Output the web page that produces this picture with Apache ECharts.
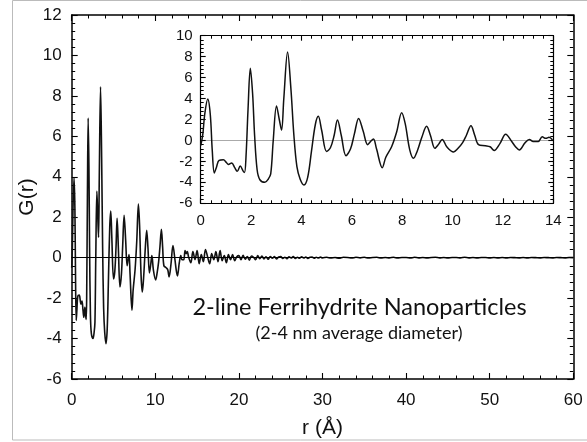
<!DOCTYPE html>
<html><head><meta charset="utf-8">
<script src="https://cdn.jsdelivr.net/npm/echarts@6/dist/echarts.min.js"></script>
<style>html,body{margin:0;padding:0;background:#fff}#c{width:587px;height:442px}</style>
</head><body><div id="c"></div>
<script>
// r (Angstrom) and G(r)
const rCore = [0.00,0.08,0.16,0.28,0.38,0.46,0.54,0.62,0.73,0.90,1.02,1.10,1.23,1.35,1.45,1.57,1.68,1.74,1.80,1.88,1.97,2.06,2.14,2.24,2.35,2.55,2.68,2.78,2.88,3.01,3.12,3.21,3.30,3.45,3.58,3.70,3.82,3.95,4.10,4.25,4.40,4.55,4.67,4.80,5.00,5.15,5.30,5.43,5.58,5.77,5.95,6.10,6.27,6.45,6.63,6.76,6.86,6.98,7.21,7.35,7.58,7.78,7.98,8.12,8.30,8.45,8.60,8.78,8.97,9.12,9.30,9.45,9.59,9.77,10.04,10.20,10.40,10.55,10.73,10.88,11.03,11.30,11.49,11.65,11.88,12.11,12.35,12.50,12.65,12.87,13.05,13.20,13.40,13.56,13.70,13.83,13.97];
const gCore = [-0.5,0.5,2.5,3.95,2.5,-1.0,-3.1,-2.6,-1.9,-1.85,-2.1,-2.3,-2.15,-2.6,-2.95,-2.45,-2.9,-3.05,-1.5,3.0,6.9,4.5,0.5,-2.8,-3.75,-4.0,-3.7,-3.2,0.0,3.3,2.0,1.0,4.0,8.45,5.0,0.5,-2.5,-3.7,-4.25,-3.5,-1.0,1.5,2.3,1.0,-1.05,-0.7,0.5,1.95,0.5,-1.45,-0.8,0.6,2.1,0.9,-0.4,-0.05,0.15,-0.8,-2.6,-1.6,-0.6,0.8,2.65,1.6,-0.9,-1.7,-1.0,0.3,1.35,0.5,-0.75,-0.35,0.1,-0.6,-1.1,-0.8,-0.2,0.5,1.4,0.5,-0.4,-0.5,-0.6,-0.95,-0.3,0.6,-0.1,-0.6,-0.9,-0.25,0.1,-0.1,-0.1,0.35,0.2,0.3,0.05];
const rTail = [14.25,14.5,14.75,15,15.25,15.5,15.75,16,16.25,16.5,16.75,17,17.25,17.5,17.75,18,18.25,18.5,18.75,19,19.25,19.5,19.75,20,20.25,20.5,20.75,21,21.25,21.5,21.75,22,22.25,22.5,22.75,23,23.25,23.5,23.75,24,24.25,24.5,24.75,25,25.25,25.5,25.75,26,26.25,26.5,26.75,27,27.25,27.5,27.75,28,28.25,28.5,28.75,29,29.25,29.5,29.75,30];
const gTail = [-0.25,0.3,-0.1,0.35,-0.3,0.15,-0.2,0.4,0.05,-0.3,0.2,-0.1,0.3,-0.2,0.35,-0.15,0.1,-0.25,0.15,-0.1,0.15,-0.15,0.05,0.1,-0.1,0.12,-0.08,0.05,-0.12,0.08,0.02,-0.1,0.1,-0.05,0.08,-0.06,0.04,-0.08,0.06,-0.03,0.05,-0.06,0.03,0.06,-0.04,0.02,-0.05,0.04,-0.02,0.05,-0.04,0.02,-0.03,0.04,-0.02,0.03,-0.04,0.02,0.03,-0.03,0.02,-0.02,0.03,-0.01];
const rFar = [30.5,31,31.5,32,32.5,33,33.5,34,34.5,35,35.5,36,36.5,37,37.5,38,38.5,39,39.5,40,40.5,41,41.5,42,42.5,43,43.5,44,44.5,45,45.5,46,46.5,47,47.5,48,48.5,49,49.5,50,50.5,51,51.5,52,52.5,53,53.5,54,54.5,55,55.5,56,56.5,57,57.5,58,58.5,59,59.5,60];
const gFar = [0.02,-0.02,0.01,-0.03,0.02,0.01,-0.02,0.02,-0.01,0.02,-0.02,0.01,0.02,-0.02,0.01,-0.01,0.02,-0.02,0.01,0.01,-0.02,0.02,-0.01,0.01,-0.02,0.01,0.02,-0.01,0.01,-0.02,0.01,0.01,-0.01,0.02,-0.01,0.01,-0.01,0.01,0.01,-0.01,0.01,-0.01,0.01,-0.01,0.01,0.00,-0.01,0.01,-0.01,0.01,0.00,-0.01,0.01,0.00,-0.01,0.01,0.00,-0.01,0.01,0.00];

const mainXTicks = [0,10,20,30,40,50,60];
const mainYTicks = [-6,-4,-2,0,2,4,6,8,10,12];
const insetXTicks = [0,2,4,6,8,10,12,14];
const insetYTicks = [-6,-4,-2,0,2,4,6,8,10];

const rAll = rCore.concat(rTail, rFar);
const gAll = gCore.concat(gTail, gFar);
const mainData = rAll.map((r, i) => [r, gAll[i]]);
const insetData = rCore.map((r, i) => [r, gCore[i]]);

function axis(kind, grid, ticks, pos, showLabel, big) {
  return {
    type: 'value', gridIndex: grid, position: pos,
    min: ticks[0], max: ticks[ticks.length - 1], interval: ticks[1] - ticks[0],
    axisLine: { show: true, onZero: false, lineStyle: { color: '#000', width: big ? 1.5 : 1.2 } },
    axisTick: { show: true, inside: true, length: big ? 6 : 5, lineStyle: { color: '#000', width: 1.1 } },
    minorTick: { show: true, splitNumber: 5, length: big ? 3.5 : 3, lineStyle: { color: '#000', width: 1 } },
    splitLine: { show: false }, minorSplitLine: { show: false },
    axisLabel: {
      show: showLabel, color: '#111', fontFamily: 'Liberation Sans',
      fontSize: big ? 17 : 15,
      margin: kind === 'x' ? (big ? 13 : 10) : (big ? 10 : 8)
    }
  };
}

const chart = echarts.init(document.getElementById('c'), null, { renderer: 'canvas' });
chart.setOption({
  animation: false,
  backgroundColor: '#fff',
  grid: [
    { left: 71.7, top: 15, width: 501.6, height: 364, containLabel: false },
    { left: 200.7, top: 35.7, width: 352.6, height: 167.6, show: true, backgroundColor: '#fff', borderWidth: 0, z: 5 }
  ],
  xAxis: [
    axis('x', 0, mainXTicks, 'bottom', true, true),
    axis('x', 0, mainXTicks, 'top', false, true),
    Object.assign(axis('x', 1, insetXTicks, 'bottom', true, false), { z: 10 }),
    Object.assign(axis('x', 1, insetXTicks, 'top', false, false), { z: 10 })
  ],
  yAxis: [
    axis('y', 0, mainYTicks, 'left', true, true),
    axis('y', 0, mainYTicks, 'right', false, true),
    Object.assign(axis('y', 1, insetYTicks, 'left', true, false), { z: 10 }),
    Object.assign(axis('y', 1, insetYTicks, 'right', false, false), { z: 10 })
  ],
  series: [
    {
      type: 'line', xAxisIndex: 0, yAxisIndex: 0, data: mainData,
      showSymbol: false, smooth: 0.35, clip: true,
      lineStyle: { color: '#111', width: 1.6 },
      markLine: { silent: true, symbol: 'none', label: { show: false },
        lineStyle: { color: '#000', width: 1, type: 'solid' }, data: [{ yAxis: 0 }] }
    },
    {
      type: 'line', xAxisIndex: 2, yAxisIndex: 2, data: insetData, z: 12,
      showSymbol: false, smooth: 0.35, clip: true,
      lineStyle: { color: '#111', width: 1.5 },
      markLine: { silent: true, symbol: 'none', label: { show: false },
        lineStyle: { color: '#aaa', width: 1, type: 'solid' }, data: [{ yAxis: 0 }] }
    }
  ],
  graphic: [
    { type: 'rect', silent: true, z: -10, shape: { x: 12.5, y: 0.5, width: 590, height: 439.5 },
      style: { fill: 'none', stroke: '#bbb', lineWidth: 1 } },
    { type: 'text', x: 359.5, y: 307, style: { text: '2-line Ferrihydrite Nanoparticles', fill: '#111',
      font: '23.5px Lato', textAlign: 'center', textVerticalAlign: 'middle' } },
    { type: 'text', x: 359, y: 333, style: { text: '(2-4 nm average diameter)', fill: '#111',
      font: '18px Lato', textAlign: 'center', textVerticalAlign: 'middle' } },
    { type: 'text', x: 27.5, y: 197, rotation: Math.PI / 2, style: { text: 'G(r)', fill: '#111',
      font: '21px "Liberation Sans"', textAlign: 'center', textVerticalAlign: 'middle' } },
    { type: 'text', x: 322.5, y: 428, style: { text: 'r (Å)', fill: '#111',
      font: '21px "Liberation Sans"', textAlign: 'center', textVerticalAlign: 'middle' } }
  ]
});
</script>
</body></html>
